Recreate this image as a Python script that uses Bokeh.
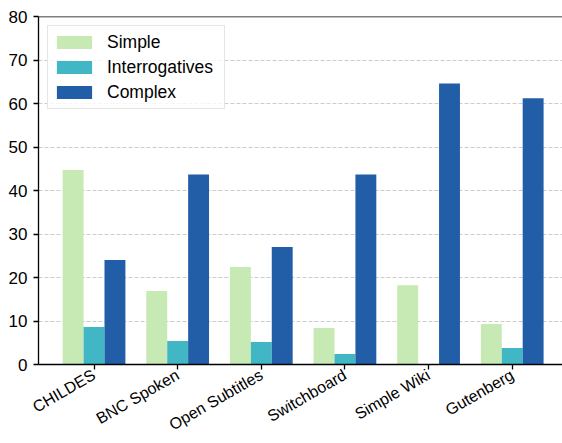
import math
from bokeh.plotting import figure
from bokeh.models import Range1d, FixedTicker, ColumnDataSource, Legend, LegendItem, Span
from bokeh.transform import dodge
from bokeh.embed import file_html
from bokeh.resources import INLINE

categories = ["CHILDES", "BNC Spoken", "Open Subtitles", "Switchboard", "Simple Wiki", "Gutenberg"]
simple = [44.7, 16.9, 22.4, 8.4, 18.2, 9.3]
interrogatives = [8.6, 5.4, 5.2, 2.4, 0.0, 3.8]
complex_ = [24.0, 43.7, 27.0, 43.7, 64.6, 61.2]
series_names = ["Simple", "Interrogatives", "Complex"]
colors = ["#c7e9b4", "#41b6c4", "#225ea8"]
y_ticks = [0, 10, 20, 30, 40, 50, 60, 70, 80]

idx = list(range(len(categories)))
source = ColumnDataSource(dict(idx=idx, Simple=simple,
                               Interrogatives=interrogatives, Complex=complex_))

FONT = "Liberation Sans"

p = figure(width=562, height=443, output_backend="svg", toolbar_location=None,
           x_range=Range1d(-0.664, 5.601), y_range=Range1d(0, 80),
           min_border_left=38, min_border_right=0, min_border_top=16, min_border_bottom=78)
p.outline_line_color = None
p.background_fill_color = "white"
p.border_fill_color = "white"

bar_w = 0.25
offsets = [-0.25, 0.0, 0.25]
renderers = []
for name, col, off in zip(series_names, colors, offsets):
    r = p.vbar(x=dodge("idx", off, range=p.x_range), top=name, bottom=0, width=bar_w,
               source=source, fill_color=col, line_color=None)
    renderers.append(r)

# axes
p.xaxis.ticker = FixedTicker(ticks=idx)
p.xaxis.major_label_overrides = {i: c for i, c in enumerate(categories)}
p.xaxis.major_label_orientation = math.pi / 6
p.yaxis.ticker = FixedTicker(ticks=y_ticks)
for ax in (p.xaxis, p.yaxis):
    ax.axis_line_color = "black"
    ax.axis_line_width = 1.3
    ax.major_tick_line_color = "black"
    ax.major_tick_line_width = 1.3
    ax.major_tick_in = 0
    ax.major_tick_out = 5
    ax.minor_tick_line_color = None
    ax.major_label_text_font = FONT
    ax.major_label_text_color = "black"
p.xaxis.major_label_text_font_size = "16px"
p.yaxis.major_label_text_font_size = "17px"
p.xaxis.major_label_standoff = 4
p.yaxis.major_label_standoff = 6

p.xgrid.grid_line_color = None
p.ygrid.grid_line_color = "#cccccc"
p.ygrid.grid_line_dash = "4 2"
p.ygrid.grid_line_width = 1

top_spine = Span(location=80, dimension="width", line_color="black", line_width=1.3)
p.add_layout(top_spine)

legend = Legend(items=[LegendItem(label=n, renderers=[r]) for n, r in zip(series_names, renderers)],
                location="top_left", margin=9, padding=4, spacing=1,
                glyph_width=44, glyph_height=16, label_height=24, label_width=113,
                label_standoff=11)
legend.label_text_font = FONT
legend.label_text_font_size = "17.5px"
legend.label_text_color = "black"
legend.border_line_color = "#cccccc"
legend.border_line_width = 1
legend.background_fill_alpha = 0.8
p.add_layout(legend)

open("out.html", "w").write(file_html(p, INLINE))
